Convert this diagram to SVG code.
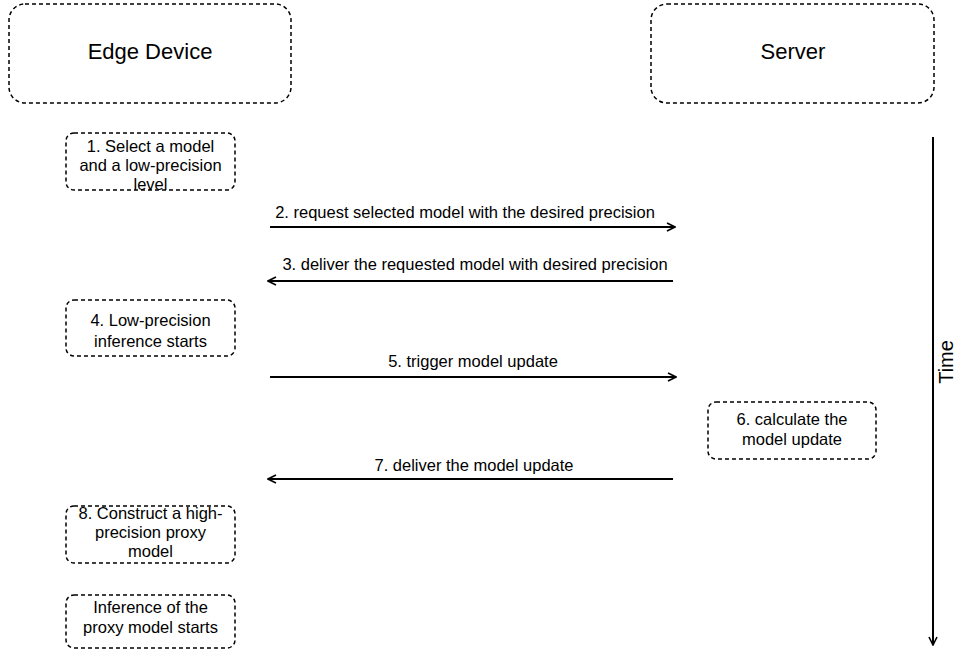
<svg xmlns="http://www.w3.org/2000/svg" width="957" height="652" viewBox="0 0 957 652">
<style>
.box{fill:#fff;stroke:#000;stroke-width:1.5;stroke-dasharray:4 3}
.t{font-family:"Liberation Sans",Arial,sans-serif;font-size:16.5px;fill:#000;text-anchor:middle}
.h{font-family:"Liberation Sans",Arial,sans-serif;font-size:22px;fill:#000;text-anchor:middle}
.ln{stroke:#000;stroke-width:2;fill:none;marker-end:url(#ah)}
</style>
<defs>
<marker id="ah" viewBox="0 0 10 10" refX="9" refY="5" markerWidth="5" markerHeight="5" orient="auto" markerUnits="strokeWidth">
<path d="M1,1 L9,5 L1,9" fill="none" stroke="#000" stroke-width="1.6"/>
</marker>
</defs>
<rect width="957" height="652" fill="#fff"/>
<g id="edge"><rect class="box" x="9" y="4" width="282" height="99" rx="16"/><text class="h" x="150" y="59">Edge Device</text></g>
<g id="server"><rect class="box" x="651" y="4" width="283" height="99" rx="16"/><text class="h" x="793" y="59">Server</text></g>
<g id="s1"><rect class="box" x="66" y="133" width="169" height="57" rx="8"/><text class="t" x="150.5" y="152">1. Select a model</text><text class="t" x="150.5" y="171">and a low-precision</text><text class="t" x="150.5" y="190">level</text></g>
<g id="s4"><rect class="box" x="66" y="300" width="169" height="56" rx="8"/><text class="t" x="150.5" y="326">4. Low-precision</text><text class="t" x="150.5" y="347">inference starts</text></g>
<g id="s6"><rect class="box" x="708" y="402" width="168" height="57" rx="8"/><text class="t" x="792" y="425">6. calculate the</text><text class="t" x="792" y="445">model update</text></g>
<g id="s8"><rect class="box" x="66" y="506" width="169" height="57" rx="8"/><text class="t" x="150.5" y="519">8. Construct a high-</text><text class="t" x="150.5" y="538">precision proxy</text><text class="t" x="150.5" y="557">model</text></g>
<g id="s9"><rect class="box" x="66" y="595" width="169" height="53" rx="8"/><text class="t" x="150.5" y="613">Inference of the</text><text class="t" x="150.5" y="633">proxy model starts</text></g>
<g id="connectors">
<line class="ln" x1="270" y1="227" x2="675" y2="227"/>
<text class="t" x="465" y="218">2. request selected model with the desired precision</text>
<line class="ln" x1="673" y1="281" x2="268" y2="281"/>
<text class="t" x="475" y="270">3. deliver the requested model with desired precision</text>
<line class="ln" x1="270" y1="377" x2="676" y2="377"/>
<text class="t" x="473" y="367">5. trigger model update</text>
<line class="ln" x1="673" y1="479" x2="268" y2="479"/>
<text class="t" x="474" y="471">7. deliver the model update</text>
<line class="ln" x1="933" y1="137" x2="933" y2="645"/>
<text class="h" transform="translate(953,362) rotate(-90)" style="font-size:20px">Time</text>
</g>
</svg>
